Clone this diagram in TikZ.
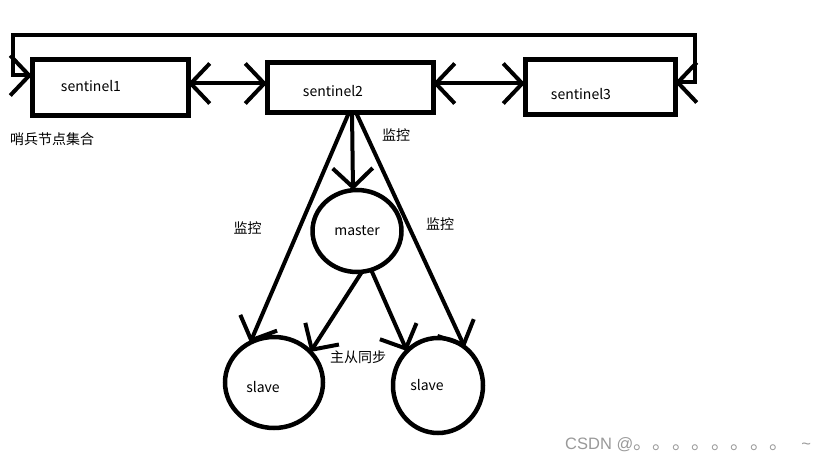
\documentclass[tikz,border=0pt]{standalone}
\usepackage{fontspec}
\setmainfont{Noto Sans CJK SC}
\newfontfamily\cjk{Noto Sans CJK SC}
\newfontfamily\wmfont{Liberation Sans}
\usetikzlibrary{arrows.meta,positioning,shapes.geometric}

\begin{document}
\begin{tikzpicture}[x=1pt, y=-1pt,
        node distance=79pt,
        box/.style={draw, line width=5pt, outer sep=0pt, minimum width=156pt,
                    minimum height=56pt},
        ball/.style={draw, ellipse, line width=4.5pt, outer sep=0pt, inner sep=0pt},
        txt/.style={font=\fontsize{14}{16}\selectfont, inner sep=0pt},
        arrow/.style={-{Straight Barb[length=19pt,width=40pt]}, line width=4pt},
        biarrow/.style={{Straight Barb[length=19pt,width=40pt]}-{Straight Barb[length=19pt,width=40pt]},
                        line width=4pt}
    ]
        \useasboundingbox (0,0) rectangle (824,465);

        % sentinel row
        \node[box] (s1) at (110,87.5) {};
        \node[box, right=of s1, minimum width=166pt, minimum height=50pt] (s2) {};
        \node[box, right=92pt of s2, minimum width=150pt, minimum height=55pt] (s3) {};
        \node[txt] (t1) at (91,86) {sentinel1};
        \node[txt] (t2) at (333,91) {sentinel2};
        \node[txt] (t3) at (581,94) {sentinel3};
        \node[txt] (group) at (52,139) {哨兵节点集合};

        % master and slaves
        \node[ball, minimum width=89pt, minimum height=82pt] (m) at (357,231) {};
        \node[ball, minimum width=98pt, minimum height=91pt] (sl) at (274,382.5) {};
        \node[ball, minimum width=90pt, minimum height=95pt] (sr) at (438,385.5) {};
        \node[txt] (tm) at (357,231) {master};
        \node[txt] (tsl) at (263,387) {slave};
        \node[txt] (tsr) at (427,385.5) {slave};

        \coordinate (loopR) at (695,35);
        \draw[biarrow] ([yshift=12pt]s1.west) -- ++(-19,0) |- (loopR)
            |- ([yshift=5pt]s3.east);
        \draw[biarrow] ([yshift=4pt]s1.east) -- ([yshift=4pt]s2.west);
        \draw[biarrow] ([yshift=4pt]s2.east) -- ([yshift=4pt]s3.west);

        \draw[arrow] ([xshift=2pt]s2.south) -- ([xshift=-4pt]m.north);
        \draw[arrow] ([xshift=-1pt]s2.south) -- (sl.121);
        \draw[arrow] ([xshift=6pt]s2.south) -- (sr.55);
        \draw[arrow] (m.-83) -- (sl.40);
        \draw[arrow] (m.-70) -- (sr.132);

        \node[txt] (w1) at (396,135) {监控};
        \node[txt] (w2) at (247.5,228) {监控};
        \node[txt] (w3) at (440,224.5) {监控};
        \node[txt] (sync) at (358,357) {主从同步};

        % watermark
        \node[txt, font=\fontsize{16.5}{18}\wmfont, text=black!40, anchor=west] (csdn)
            at (565,445) {CSDN @{\fontsize{19.5}{20}\cjk 。。。。。。。。}\hspace{12pt}\textasciitilde};
    \end{tikzpicture}
\end{document}
